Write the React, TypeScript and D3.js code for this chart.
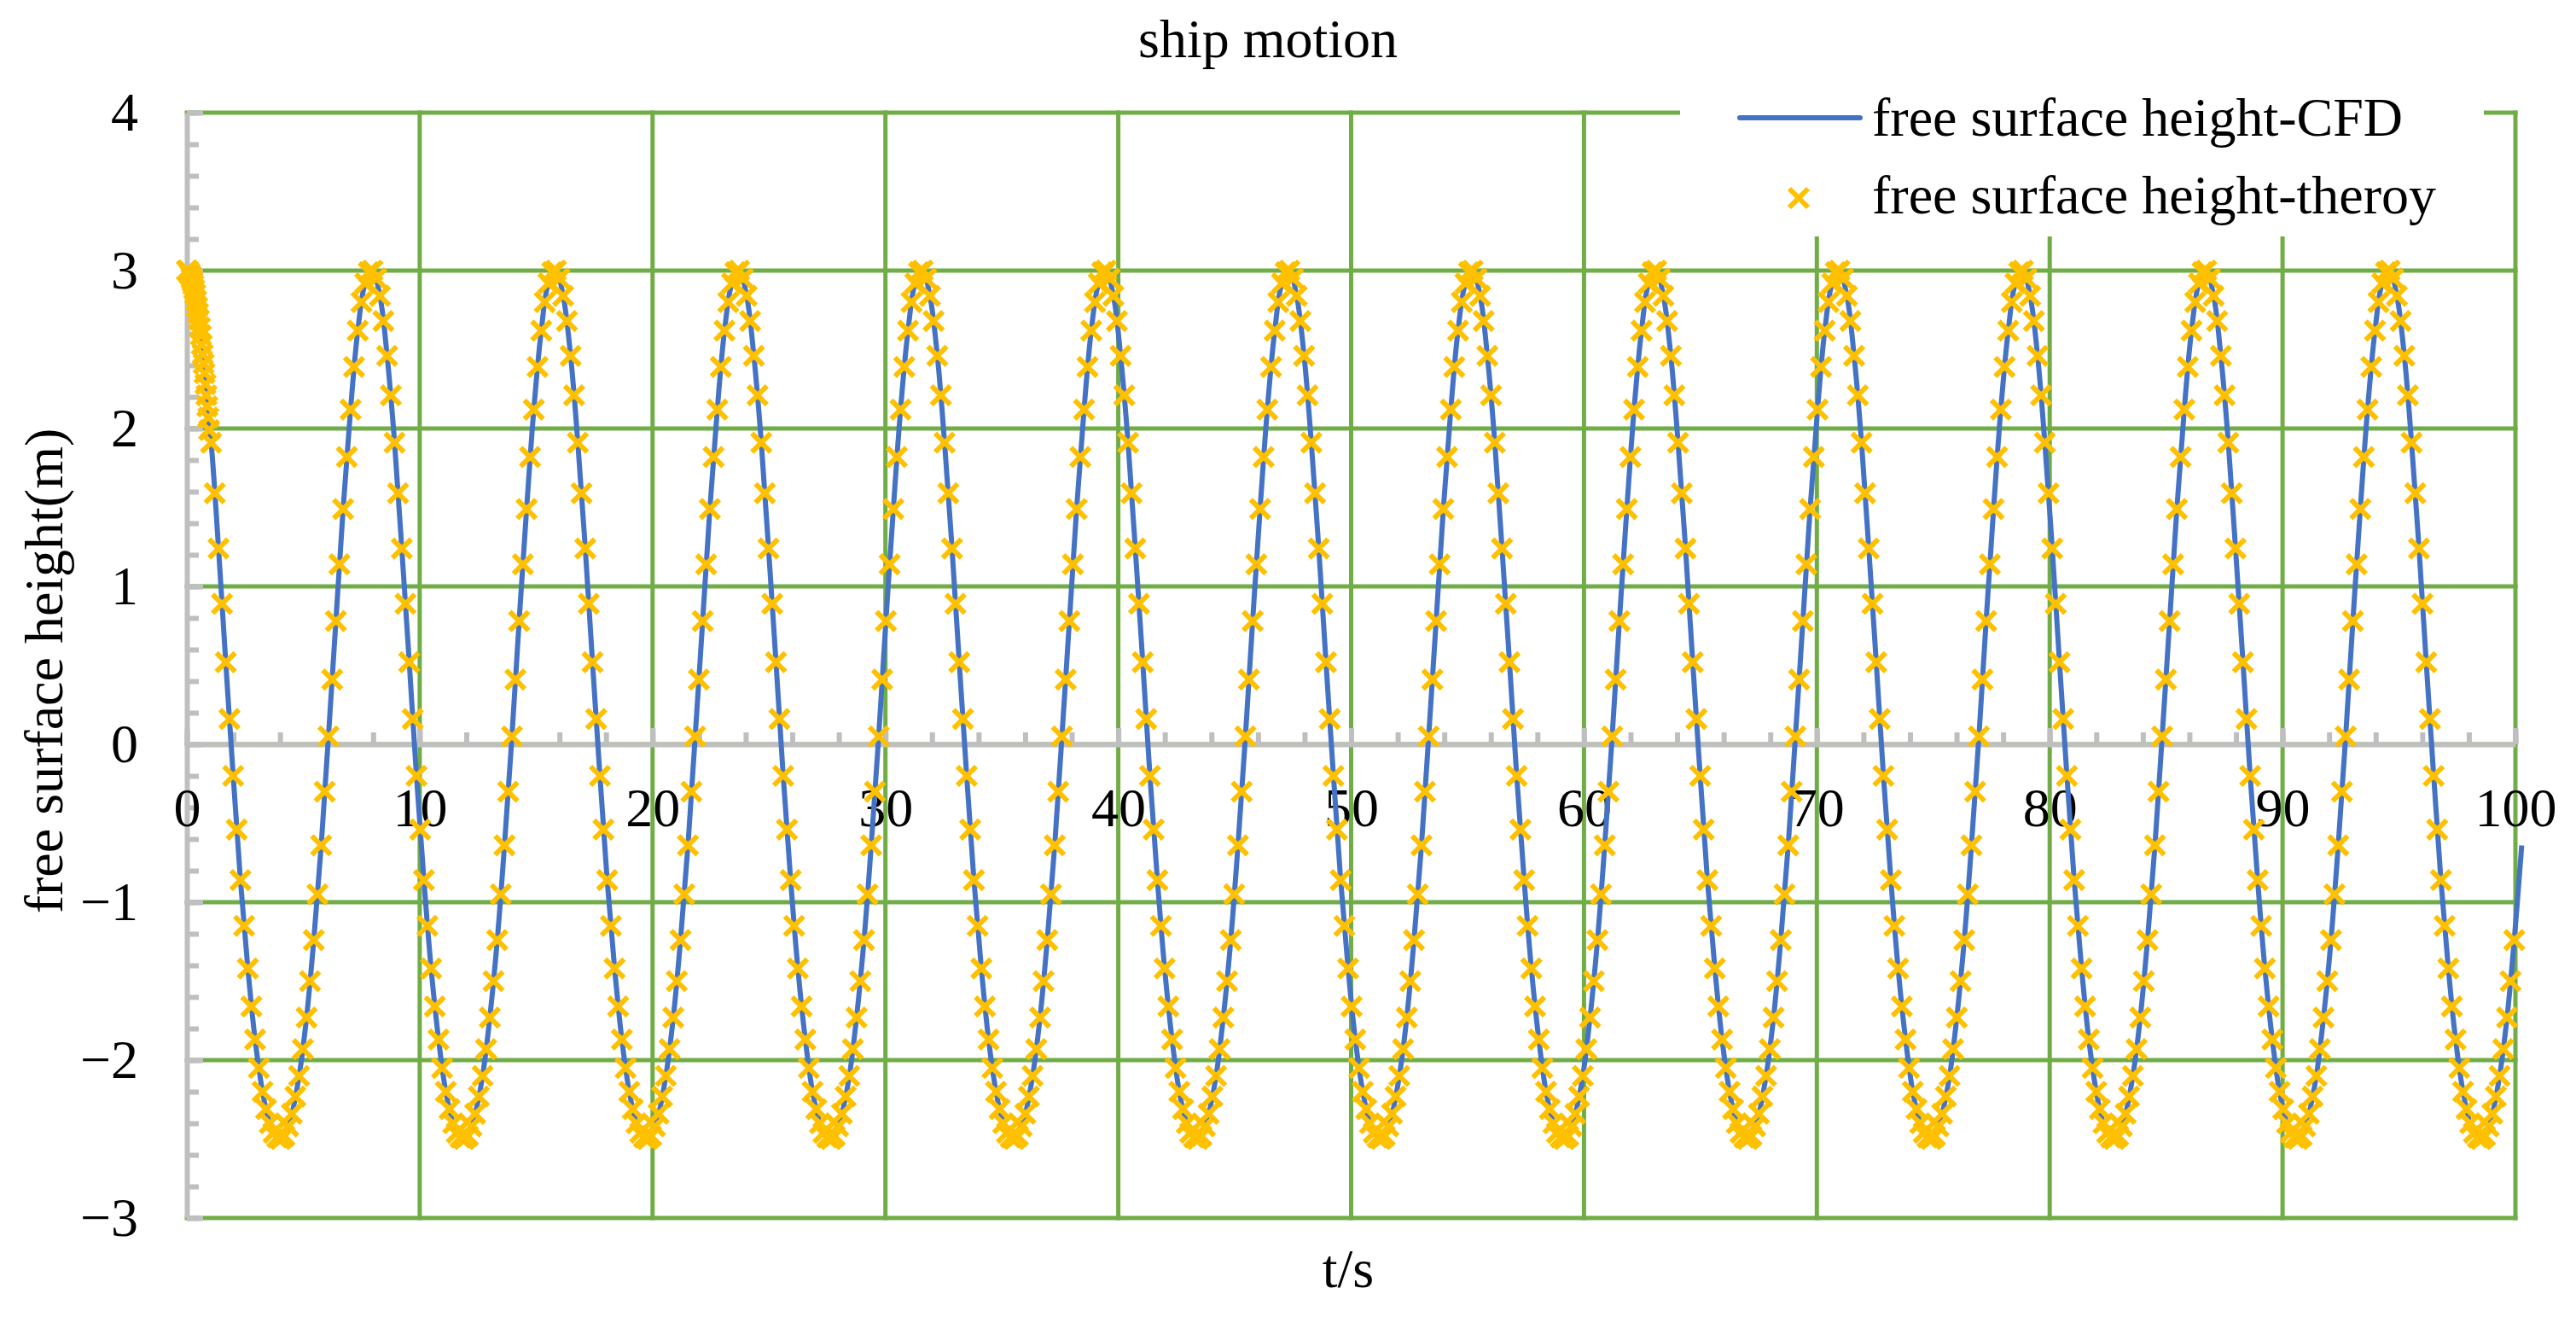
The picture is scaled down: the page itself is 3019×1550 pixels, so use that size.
import React, { useEffect, useRef } from "react";
import * as d3 from "d3";

const W = 3019;
const H = 1550;
const FONT = "'Liberation Serif', 'Times New Roman', Times, serif";

const chartTitle = "ship motion";
const xTitle = "t/s";
const yTitle = "free surface height(m)";
const seriesNames = ["free surface height-CFD", "free surface height-theroy"];

const xTicks = [0, 10, 20, 30, 40, 50, 60, 70, 80, 90, 100];
const yTicks = [-3, -2, -1, 0, 1, 2, 3, 4];

// theory: the dense cluster of samples right at the start (t in s, height in m)
const theoryStartT = [
  0, 0.04, 0.08, 0.12, 0.16, 0.2, 0.24, 0.28, 0.32, 0.36, 0.4, 0.44, 0.48,
  0.52, 0.56, 0.6, 0.64, 0.68, 0.72, 0.76, 0.8, 0.84, 0.88, 0.92, 0.96,
];
const theoryStartH = [
  3, 3, 2.99, 2.98, 2.97, 2.95, 2.93, 2.91, 2.88, 2.85, 2.81, 2.77, 2.73,
  2.69, 2.64, 2.59, 2.53, 2.47, 2.41, 2.35, 2.28, 2.21, 2.14, 2.07, 1.99,
];

// theory: regular samples after the start
const theoryT = [
  1.04, 1.2, 1.36, 1.51, 1.67, 1.83, 1.99, 2.14, 2.3, 2.46, 2.62, 2.77, 2.93, 3.09, 3.25, 3.4, 3.56, 3.72, 3.88, 4.03,
  4.19, 4.35, 4.51, 4.66, 4.82, 4.98, 5.14, 5.29, 5.45, 5.61, 5.77, 5.92, 6.08, 6.24, 6.4, 6.55, 6.71, 6.87, 7.03, 7.18,
  7.34, 7.5, 7.66, 7.81, 7.97, 8.13, 8.29, 8.44, 8.6, 8.76, 8.92, 9.07, 9.23, 9.39, 9.55, 9.7, 9.86, 10.02, 10.18, 10.33,
  10.49, 10.65, 10.81, 10.96, 11.12, 11.28, 11.44, 11.59, 11.75, 11.91, 12.07, 12.22, 12.38, 12.54, 12.7, 12.85, 13.01, 13.17, 13.33, 13.48,
  13.64, 13.8, 13.96, 14.11, 14.27, 14.43, 14.59, 14.74, 14.9, 15.06, 15.22, 15.37, 15.53, 15.69, 15.85, 16, 16.16, 16.32, 16.48, 16.63,
  16.79, 16.95, 17.11, 17.26, 17.42, 17.58, 17.74, 17.89, 18.05, 18.21, 18.37, 18.52, 18.68, 18.84, 19, 19.15, 19.31, 19.47, 19.63, 19.78,
  19.94, 20.1, 20.26, 20.41, 20.57, 20.73, 20.89, 21.04, 21.2, 21.36, 21.52, 21.67, 21.83, 21.99, 22.15, 22.3, 22.46, 22.62, 22.78, 22.93,
  23.09, 23.25, 23.41, 23.56, 23.72, 23.88, 24.04, 24.19, 24.35, 24.51, 24.67, 24.82, 24.98, 25.14, 25.3, 25.45, 25.61, 25.77, 25.93, 26.08,
  26.24, 26.4, 26.56, 26.71, 26.87, 27.03, 27.19, 27.34, 27.5, 27.66, 27.82, 27.97, 28.13, 28.29, 28.45, 28.6, 28.76, 28.92, 29.08, 29.23,
  29.39, 29.55, 29.71, 29.86, 30.02, 30.18, 30.34, 30.49, 30.65, 30.81, 30.97, 31.12, 31.28, 31.44, 31.6, 31.75, 31.91, 32.07, 32.23, 32.38,
  32.54, 32.7, 32.86, 33.01, 33.17, 33.33, 33.49, 33.64, 33.8, 33.96, 34.12, 34.27, 34.43, 34.59, 34.75, 34.9, 35.06, 35.22, 35.38, 35.53,
  35.69, 35.85, 36.01, 36.16, 36.32, 36.48, 36.64, 36.79, 36.95, 37.11, 37.27, 37.42, 37.58, 37.74, 37.9, 38.05, 38.21, 38.37, 38.53, 38.68,
  38.84, 39, 39.16, 39.31, 39.47, 39.63, 39.79, 39.94, 40.1, 40.26, 40.42, 40.57, 40.73, 40.89, 41.05, 41.2, 41.36, 41.52, 41.68, 41.83,
  41.99, 42.15, 42.31, 42.46, 42.62, 42.78, 42.94, 43.09, 43.25, 43.41, 43.57, 43.72, 43.88, 44.04, 44.2, 44.35, 44.51, 44.67, 44.83, 44.98,
  45.14, 45.3, 45.46, 45.61, 45.77, 45.93, 46.09, 46.24, 46.4, 46.56, 46.72, 46.87, 47.03, 47.19, 47.35, 47.5, 47.66, 47.82, 47.98, 48.13,
  48.29, 48.45, 48.61, 48.76, 48.92, 49.08, 49.24, 49.39, 49.55, 49.71, 49.87, 50.02, 50.18, 50.34, 50.5, 50.65, 50.81, 50.97, 51.13, 51.28,
  51.44, 51.6, 51.76, 51.91, 52.07, 52.23, 52.39, 52.54, 52.7, 52.86, 53.02, 53.17, 53.33, 53.49, 53.65, 53.8, 53.96, 54.12, 54.28, 54.43,
  54.59, 54.75, 54.91, 55.06, 55.22, 55.38, 55.54, 55.69, 55.85, 56.01, 56.17, 56.32, 56.48, 56.64, 56.8, 56.95, 57.11, 57.27, 57.43, 57.58,
  57.74, 57.9, 58.06, 58.21, 58.37, 58.53, 58.69, 58.84, 59, 59.16, 59.32, 59.47, 59.63, 59.79, 59.95, 60.1, 60.26, 60.42, 60.58, 60.73,
  60.89, 61.05, 61.21, 61.36, 61.52, 61.68, 61.84, 61.99, 62.15, 62.31, 62.47, 62.62, 62.78, 62.94, 63.1, 63.25, 63.41, 63.57, 63.73, 63.88,
  64.04, 64.2, 64.36, 64.51, 64.67, 64.83, 64.99, 65.14, 65.3, 65.46, 65.62, 65.77, 65.93, 66.09, 66.25, 66.4, 66.56, 66.72, 66.88, 67.03,
  67.19, 67.35, 67.51, 67.66, 67.82, 67.98, 68.14, 68.29, 68.45, 68.61, 68.77, 68.92, 69.08, 69.24, 69.4, 69.55, 69.71, 69.87, 70.03, 70.18,
  70.34, 70.5, 70.66, 70.81, 70.97, 71.13, 71.29, 71.44, 71.6, 71.76, 71.92, 72.07, 72.23, 72.39, 72.55, 72.7, 72.86, 73.02, 73.18, 73.33,
  73.49, 73.65, 73.81, 73.96, 74.12, 74.28, 74.44, 74.59, 74.75, 74.91, 75.07, 75.22, 75.38, 75.54, 75.7, 75.85, 76.01, 76.17, 76.33, 76.48,
  76.64, 76.8, 76.96, 77.11, 77.27, 77.43, 77.59, 77.74, 77.9, 78.06, 78.22, 78.37, 78.53, 78.69, 78.85, 79, 79.16, 79.32, 79.48, 79.63,
  79.79, 79.95, 80.11, 80.26, 80.42, 80.58, 80.74, 80.89, 81.05, 81.21, 81.37, 81.52, 81.68, 81.84, 82, 82.15, 82.31, 82.47, 82.63, 82.78,
  82.94, 83.1, 83.26, 83.41, 83.57, 83.73, 83.89, 84.04, 84.2, 84.36, 84.52, 84.67, 84.83, 84.99, 85.15, 85.3, 85.46, 85.62, 85.78, 85.93,
  86.09, 86.25, 86.41, 86.56, 86.72, 86.88, 87.04, 87.19, 87.35, 87.51, 87.67, 87.82, 87.98, 88.14, 88.3, 88.45, 88.61, 88.77, 88.93, 89.08,
  89.24, 89.4, 89.56, 89.71, 89.87, 90.03, 90.19, 90.34, 90.5, 90.66, 90.82, 90.97, 91.13, 91.29, 91.45, 91.6, 91.76, 91.92, 92.08, 92.23,
  92.39, 92.55, 92.71, 92.86, 93.02, 93.18, 93.34, 93.49, 93.65, 93.81, 93.97, 94.12, 94.28, 94.44, 94.6, 94.75, 94.91, 95.07, 95.23, 95.38,
  95.54, 95.7, 95.86, 96.01, 96.17, 96.33, 96.49, 96.64, 96.8, 96.96, 97.12, 97.27, 97.43, 97.59, 97.75, 97.9, 98.06, 98.22, 98.38, 98.53,
  98.69, 98.85, 99.01, 99.16, 99.32, 99.48, 99.64, 99.79, 99.95,
];
const theoryH = [
  1.91, 1.59, 1.24, 0.89, 0.52, 0.16, -0.2, -0.54, -0.86, -1.15, -1.42, -1.66, -1.87, -2.05, -2.2, -2.31, -2.4, -2.46, -2.49, -2.5, -2.48, -2.42, -2.34, -2.23, -2.1, -1.93, -1.73, -1.5, -1.24, -0.95, -0.64, -0.3, 0.05, 0.41, 0.78, 1.14, 1.49, 1.82, 2.12, 2.39, 2.62, 2.8, 2.92, 2.99, 3, 2.95, 2.84, 2.68, 2.46, 2.21,
  1.91, 1.59, 1.24, 0.89, 0.52, 0.16, -0.2, -0.54, -0.86, -1.15, -1.42, -1.66, -1.87, -2.05, -2.2, -2.31, -2.4, -2.46, -2.49, -2.5, -2.48, -2.42, -2.34, -2.23, -2.1, -1.93, -1.73, -1.5, -1.24, -0.95, -0.64, -0.3, 0.05, 0.41, 0.78, 1.14, 1.49, 1.82, 2.12, 2.39, 2.62, 2.8, 2.92, 2.99, 3, 2.95, 2.84, 2.68, 2.46, 2.21,
  1.91, 1.59, 1.24, 0.89, 0.52, 0.16, -0.2, -0.54, -0.86, -1.15, -1.42, -1.66, -1.87, -2.05, -2.2, -2.31, -2.4, -2.46, -2.49, -2.5, -2.48, -2.42, -2.34, -2.23, -2.1, -1.93, -1.73, -1.5, -1.24, -0.95, -0.64, -0.3, 0.05, 0.41, 0.78, 1.14, 1.49, 1.82, 2.12, 2.39, 2.62, 2.8, 2.92, 2.99, 3, 2.95, 2.84, 2.68, 2.46, 2.21,
  1.91, 1.59, 1.24, 0.89, 0.52, 0.16, -0.2, -0.54, -0.86, -1.15, -1.42, -1.66, -1.87, -2.05, -2.2, -2.31, -2.4, -2.46, -2.49, -2.5, -2.48, -2.42, -2.34, -2.23, -2.1, -1.93, -1.73, -1.5, -1.24, -0.95, -0.64, -0.3, 0.05, 0.41, 0.78, 1.14, 1.49, 1.82, 2.12, 2.39, 2.62, 2.8, 2.92, 2.99, 3, 2.95, 2.84, 2.68, 2.46, 2.21,
  1.91, 1.59, 1.24, 0.89, 0.52, 0.16, -0.2, -0.54, -0.86, -1.15, -1.42, -1.66, -1.87, -2.05, -2.2, -2.31, -2.4, -2.46, -2.49, -2.5, -2.48, -2.42, -2.34, -2.23, -2.1, -1.93, -1.73, -1.5, -1.24, -0.95, -0.64, -0.3, 0.05, 0.41, 0.78, 1.14, 1.49, 1.82, 2.12, 2.39, 2.62, 2.8, 2.92, 2.99, 3, 2.95, 2.84, 2.68, 2.46, 2.21,
  1.91, 1.59, 1.24, 0.89, 0.52, 0.16, -0.2, -0.54, -0.86, -1.15, -1.42, -1.66, -1.87, -2.05, -2.2, -2.31, -2.4, -2.46, -2.49, -2.5, -2.48, -2.42, -2.34, -2.23, -2.1, -1.93, -1.73, -1.5, -1.24, -0.95, -0.64, -0.3, 0.05, 0.41, 0.78, 1.14, 1.49, 1.82, 2.12, 2.39, 2.62, 2.8, 2.92, 2.99, 3, 2.95, 2.84, 2.68, 2.46, 2.21,
  1.91, 1.59, 1.24, 0.89, 0.52, 0.16, -0.2, -0.54, -0.86, -1.15, -1.42, -1.66, -1.87, -2.05, -2.2, -2.31, -2.4, -2.46, -2.49, -2.5, -2.48, -2.42, -2.34, -2.23, -2.1, -1.93, -1.73, -1.5, -1.24, -0.95, -0.64, -0.3, 0.05, 0.41, 0.78, 1.14, 1.49, 1.82, 2.12, 2.39, 2.62, 2.8, 2.92, 2.99, 3, 2.95, 2.84, 2.68, 2.46, 2.21,
  1.91, 1.59, 1.24, 0.89, 0.52, 0.16, -0.2, -0.54, -0.86, -1.15, -1.42, -1.66, -1.87, -2.05, -2.2, -2.31, -2.4, -2.46, -2.49, -2.5, -2.48, -2.42, -2.34, -2.23, -2.1, -1.93, -1.73, -1.5, -1.24, -0.95, -0.64, -0.3, 0.05, 0.41, 0.78, 1.14, 1.49, 1.82, 2.12, 2.39, 2.62, 2.8, 2.92, 2.99, 3, 2.95, 2.84, 2.68, 2.46, 2.21,
  1.91, 1.59, 1.24, 0.89, 0.52, 0.16, -0.2, -0.54, -0.86, -1.15, -1.42, -1.66, -1.87, -2.05, -2.2, -2.31, -2.4, -2.46, -2.49, -2.5, -2.48, -2.42, -2.34, -2.23, -2.1, -1.93, -1.73, -1.5, -1.24, -0.95, -0.64, -0.3, 0.05, 0.41, 0.78, 1.14, 1.49, 1.82, 2.12, 2.39, 2.62, 2.8, 2.92, 2.99, 3, 2.95, 2.84, 2.68, 2.46, 2.21,
  1.91, 1.59, 1.24, 0.89, 0.52, 0.16, -0.2, -0.54, -0.86, -1.15, -1.42, -1.66, -1.87, -2.05, -2.2, -2.31, -2.4, -2.46, -2.49, -2.5, -2.48, -2.42, -2.34, -2.23, -2.1, -1.93, -1.73, -1.5, -1.24, -0.95, -0.64, -0.3, 0.05, 0.41, 0.78, 1.14, 1.49, 1.82, 2.12, 2.39, 2.62, 2.8, 2.92, 2.99, 3, 2.95, 2.84, 2.68, 2.46, 2.21,
  1.91, 1.59, 1.24, 0.89, 0.52, 0.16, -0.2, -0.54, -0.86, -1.15, -1.42, -1.66, -1.87, -2.05, -2.2, -2.31, -2.4, -2.46, -2.49, -2.5, -2.48, -2.42, -2.34, -2.23, -2.1, -1.93, -1.73, -1.5, -1.24, -0.95, -0.64, -0.3, 0.05, 0.41, 0.78, 1.14, 1.49, 1.82, 2.12, 2.39, 2.62, 2.8, 2.92, 2.99, 3, 2.95, 2.84, 2.68, 2.46, 2.21,
  1.91, 1.59, 1.24, 0.89, 0.52, 0.16, -0.2, -0.54, -0.86, -1.15, -1.42, -1.66, -1.87, -2.05, -2.2, -2.31, -2.4, -2.46, -2.49, -2.5, -2.48, -2.42, -2.34, -2.23, -2.1, -1.93, -1.73, -1.5, -1.24, -0.95, -0.64, -0.3, 0.05, 0.41, 0.78, 1.14, 1.49, 1.82, 2.12, 2.39, 2.62, 2.8, 2.92, 2.99, 3, 2.95, 2.84, 2.68, 2.46, 2.21,
  1.91, 1.59, 1.24, 0.89, 0.52, 0.16, -0.2, -0.54, -0.86, -1.15, -1.42, -1.66, -1.87, -2.05, -2.2, -2.31, -2.4, -2.46, -2.49, -2.5, -2.48, -2.42, -2.34, -2.23, -2.1, -1.93, -1.73, -1.5, -1.24,
];

// CFD time history
const cfdT = [
  0, 0.16, 0.32, 0.48, 0.64, 0.8, 0.96,
  1.04, 1.36, 1.67, 1.99, 2.3, 2.62, 2.93, 3.25, 3.56, 3.88,
  4.19, 4.51, 4.82, 5.14, 5.45, 5.77, 6.08, 6.4, 6.71, 7.03,
  7.34, 7.66, 7.97, 8.29, 8.6, 8.92, 9.23, 9.55, 9.86, 10.18,
  10.49, 10.81, 11.12, 11.44, 11.75, 12.07, 12.38, 12.7, 13.01, 13.33,
  13.64, 13.96, 14.27, 14.59, 14.9, 15.22, 15.53, 15.85, 16.16, 16.48,
  16.79, 17.11, 17.42, 17.74, 18.05, 18.37, 18.68, 19, 19.31, 19.63,
  19.94, 20.26, 20.57, 20.89, 21.2, 21.52, 21.83, 22.15, 22.46, 22.78,
  23.09, 23.41, 23.72, 24.04, 24.35, 24.67, 24.98, 25.3, 25.61, 25.93,
  26.24, 26.56, 26.87, 27.19, 27.5, 27.82, 28.13, 28.45, 28.76, 29.08,
  29.39, 29.71, 30.02, 30.34, 30.65, 30.97, 31.28, 31.6, 31.91, 32.23,
  32.54, 32.86, 33.17, 33.49, 33.8, 34.12, 34.43, 34.75, 35.06, 35.38,
  35.69, 36.01, 36.32, 36.64, 36.95, 37.27, 37.58, 37.9, 38.21, 38.53,
  38.84, 39.16, 39.47, 39.79, 40.1, 40.42, 40.73, 41.05, 41.36, 41.68,
  41.99, 42.31, 42.62, 42.94, 43.25, 43.57, 43.88, 44.2, 44.51, 44.83,
  45.14, 45.46, 45.77, 46.09, 46.4, 46.72, 47.03, 47.35, 47.66, 47.98,
  48.29, 48.61, 48.92, 49.24, 49.55, 49.87, 50.18, 50.5, 50.81, 51.13,
  51.44, 51.76, 52.07, 52.39, 52.7, 53.02, 53.33, 53.65, 53.96, 54.28,
  54.59, 54.91, 55.22, 55.54, 55.85, 56.17, 56.48, 56.8, 57.11, 57.43,
  57.74, 58.06, 58.37, 58.69, 59, 59.32, 59.63, 59.95, 60.26, 60.58,
  60.89, 61.21, 61.52, 61.84, 62.15, 62.47, 62.78, 63.1, 63.41, 63.73,
  64.04, 64.36, 64.67, 64.99, 65.3, 65.62, 65.93, 66.25, 66.56, 66.88,
  67.19, 67.51, 67.82, 68.14, 68.45, 68.77, 69.08, 69.4, 69.71, 70.03,
  70.34, 70.66, 70.97, 71.29, 71.6, 71.92, 72.23, 72.55, 72.86, 73.18,
  73.49, 73.81, 74.12, 74.44, 74.75, 75.07, 75.38, 75.7, 76.01, 76.33,
  76.64, 76.96, 77.27, 77.59, 77.9, 78.22, 78.53, 78.85, 79.16, 79.48,
  79.79, 80.11, 80.42, 80.74, 81.05, 81.37, 81.68, 82, 82.31, 82.63,
  82.94, 83.26, 83.57, 83.89, 84.2, 84.52, 84.83, 85.15, 85.46, 85.78,
  86.09, 86.41, 86.72, 87.04, 87.35, 87.67, 87.98, 88.3, 88.61, 88.93,
  89.24, 89.56, 89.87, 90.19, 90.5, 90.82, 91.13, 91.45, 91.76, 92.08,
  92.39, 92.71, 93.02, 93.34, 93.65, 93.97, 94.28, 94.6, 94.91, 95.23,
  95.54, 95.86, 96.17, 96.49, 96.8, 97.12, 97.43, 97.75, 98.06, 98.38,
  98.69, 99.01, 99.32, 99.64, 99.95, 100.27,
];
const cfdH = [
  3, 2.97, 2.88, 2.73, 2.53, 2.28, 1.99,
  1.91, 1.24, 0.52, -0.2, -0.86, -1.42, -1.87, -2.2, -2.4, -2.49, -2.48, -2.34, -2.1, -1.73, -1.24, -0.64, 0.05, 0.78, 1.49, 2.12, 2.62, 2.92, 3, 2.84, 2.46,
  1.91, 1.24, 0.52, -0.2, -0.86, -1.42, -1.87, -2.2, -2.4, -2.49, -2.48, -2.34, -2.1, -1.73, -1.24, -0.64, 0.05, 0.78, 1.49, 2.12, 2.62, 2.92, 3, 2.84, 2.46,
  1.91, 1.24, 0.52, -0.2, -0.86, -1.42, -1.87, -2.2, -2.4, -2.49, -2.48, -2.34, -2.1, -1.73, -1.24, -0.64, 0.05, 0.78, 1.49, 2.12, 2.62, 2.92, 3, 2.84, 2.46,
  1.91, 1.24, 0.52, -0.2, -0.86, -1.42, -1.87, -2.2, -2.4, -2.49, -2.48, -2.34, -2.1, -1.73, -1.24, -0.64, 0.05, 0.78, 1.49, 2.12, 2.62, 2.92, 3, 2.84, 2.46,
  1.91, 1.24, 0.52, -0.2, -0.86, -1.42, -1.87, -2.2, -2.4, -2.49, -2.48, -2.34, -2.1, -1.73, -1.24, -0.64, 0.05, 0.78, 1.49, 2.12, 2.62, 2.92, 3, 2.84, 2.46,
  1.91, 1.24, 0.52, -0.2, -0.86, -1.42, -1.87, -2.2, -2.4, -2.49, -2.48, -2.34, -2.1, -1.73, -1.24, -0.64, 0.05, 0.78, 1.49, 2.12, 2.62, 2.92, 3, 2.84, 2.46,
  1.91, 1.24, 0.52, -0.2, -0.86, -1.42, -1.87, -2.2, -2.4, -2.49, -2.48, -2.34, -2.1, -1.73, -1.24, -0.64, 0.05, 0.78, 1.49, 2.12, 2.62, 2.92, 3, 2.84, 2.46,
  1.91, 1.24, 0.52, -0.2, -0.86, -1.42, -1.87, -2.2, -2.4, -2.49, -2.48, -2.34, -2.1, -1.73, -1.24, -0.64, 0.05, 0.78, 1.49, 2.12, 2.62, 2.92, 3, 2.84, 2.46,
  1.91, 1.24, 0.52, -0.2, -0.86, -1.42, -1.87, -2.2, -2.4, -2.49, -2.48, -2.34, -2.1, -1.73, -1.24, -0.64, 0.05, 0.78, 1.49, 2.12, 2.62, 2.92, 3, 2.84, 2.46,
  1.91, 1.24, 0.52, -0.2, -0.86, -1.42, -1.87, -2.2, -2.4, -2.49, -2.48, -2.34, -2.1, -1.73, -1.24, -0.64, 0.05, 0.78, 1.49, 2.12, 2.62, 2.92, 3, 2.84, 2.46,
  1.91, 1.24, 0.52, -0.2, -0.86, -1.42, -1.87, -2.2, -2.4, -2.49, -2.48, -2.34, -2.1, -1.73, -1.24, -0.64, 0.05, 0.78, 1.49, 2.12, 2.62, 2.92, 3, 2.84, 2.46,
  1.91, 1.24, 0.52, -0.2, -0.86, -1.42, -1.87, -2.2, -2.4, -2.49, -2.48, -2.34, -2.1, -1.73, -1.24, -0.64, 0.05, 0.78, 1.49, 2.12, 2.62, 2.92, 3, 2.84, 2.46,
  1.91, 1.24, 0.52, -0.2, -0.86, -1.42, -1.87, -2.2, -2.4, -2.49, -2.48, -2.34, -2.1, -1.73, -1.24, -0.64,
];

const GREEN = "#70AD47";
const GRAY = "#BFBFBF";
const BLUE = "#4472C4";
const GOLD = "#FFC000";

function ShipMotionChart() {
  const svgRef = useRef<SVGSVGElement>(null);

  useEffect(() => {
    drawChart(svgRef);
  }, []);

  const drawChart = (ref) => {
    const svg = d3.select(ref.current);
    svg.selectAll("*").remove(); // Clear previous content

    const plot = { left: 219, right: 2948, top: 132, bottom: 1427 };

    const xScale = d3.scaleLinear().domain([0, 100]).range([plot.left, plot.right]);
    const yScale = d3.scaleLinear().domain([-3, 4]).range([plot.bottom, plot.top]);

    svg.append("rect").attr("width", W).attr("height", H).attr("fill", "#ffffff");

    // Gridlines
    const grid = svg
      .append("g")
      .attr("stroke", GREEN)
      .attr("stroke-width", 5)
      .attr("stroke-linecap", "square");
    grid
      .selectAll("line.h")
      .data(yTicks)
      .join("line")
      .attr("class", "h")
      .attr("x1", plot.left)
      .attr("x2", plot.right)
      .attr("y1", (d) => yScale(d))
      .attr("y2", (d) => yScale(d));
    grid
      .selectAll("line.v")
      .data(xTicks.filter((d) => d > 0))
      .join("line")
      .attr("class", "v")
      .attr("x1", (d) => xScale(d))
      .attr("x2", (d) => xScale(d))
      .attr("y1", plot.top)
      .attr("y2", plot.bottom);

    // Legend background hides the grid behind it
    svg
      .append("rect")
      .attr("x", 1969)
      .attr("y", 92)
      .attr("width", 942)
      .attr("height", 185)
      .attr("fill", "#ffffff");

    const styleAxis = (g) => {
      g.attr("color", GRAY).attr("font-family", FONT).attr("font-size", 64);
      g.select(".domain").attr("stroke-width", 6);
      g.selectAll(".tick line").attr("stroke-width", 6);
      g.selectAll(".tick text").attr("fill", "#000000");
    };

    const intFormat = d3.format("d");

    // Y-axis (minor then major)
    svg
      .append("g")
      .attr("transform", `translate(${plot.left},0)`)
      .call(
        d3.axisLeft(yScale).tickValues(yScale.ticks(35)).tickSize(-14).tickSizeOuter(0).tickFormat(() => "")
      )
      .call(styleAxis)
      .call((g) => g.select(".domain").remove());
    svg
      .append("g")
      .attr("transform", `translate(${plot.left},0)`)
      .call(
        d3.axisLeft(yScale).tickValues(yTicks).tickSize(-19).tickSizeOuter(0).tickPadding(57).tickFormat(intFormat)
      )
      .call(styleAxis);

    // X-axis sits at y = 0
    svg
      .append("g")
      .attr("transform", `translate(0,${yScale(0)})`)
      .call(
        d3.axisBottom(xScale).tickValues(xScale.ticks(50)).tickSize(-14).tickSizeOuter(0).tickFormat(() => "")
      )
      .call(styleAxis)
      .call((g) => g.select(".domain").remove());
    svg
      .append("g")
      .attr("transform", `translate(0,${yScale(0)})`)
      .call(
        d3.axisBottom(xScale).tickValues(xTicks).tickSize(-19).tickSizeOuter(0).tickPadding(51).tickFormat(intFormat)
      )
      .call(styleAxis);

    // CFD line
    const line = d3
      .line()
      .x((d) => xScale(d[0]))
      .y((d) => yScale(d[1]))
      .curve(d3.curveCatmullRom.alpha(0.5));

    svg
      .append("path")
      .datum(d3.zip(cfdT, cfdH))
      .attr("fill", "none")
      .attr("stroke", BLUE)
      .attr("stroke-width", 6)
      .attr("stroke-linejoin", "round")
      .attr("d", line);

    // Theory markers
    const cross = "M-11,-11L11,11M-11,11L11,-11";
    const theoryPoints = d3.zip(
      [...theoryStartT, ...theoryT],
      [...theoryStartH, ...theoryH]
    );
    svg
      .append("g")
      .selectAll("path")
      .data(theoryPoints)
      .join("path")
      .attr("transform", (d) => `translate(${xScale(d[0])},${yScale(d[1])})`)
      .attr("d", cross)
      .attr("fill", "none")
      .attr("stroke", GOLD)
      .attr("stroke-width", 6);

    // Legend
    svg
      .append("line")
      .attr("x1", 2039)
      .attr("x2", 2180)
      .attr("y1", 138)
      .attr("y2", 138)
      .attr("stroke", BLUE)
      .attr("stroke-width", 6)
      .attr("stroke-linecap", "round");
    svg
      .append("text")
      .attr("x", 2194)
      .attr("y", 159)
      .attr("font-family", FONT)
      .attr("font-size", 64)
      .text(seriesNames[0]);
    svg
      .append("path")
      .attr("transform", "translate(2108,232)")
      .attr("d", cross)
      .attr("fill", "none")
      .attr("stroke", GOLD)
      .attr("stroke-width", 6);
    svg
      .append("text")
      .attr("x", 2194)
      .attr("y", 250)
      .attr("font-family", FONT)
      .attr("font-size", 64)
      .text(seriesNames[1]);

    // Titles
    svg
      .append("text")
      .attr("x", 1486)
      .attr("y", 67)
      .attr("text-anchor", "middle")
      .attr("font-family", FONT)
      .attr("font-size", 64)
      .text(chartTitle);
    svg
      .append("text")
      .attr("x", 1580)
      .attr("y", 1508)
      .attr("text-anchor", "middle")
      .attr("font-family", FONT)
      .attr("font-size", 64)
      .text(xTitle);
    svg
      .append("text")
      .attr("transform", "translate(73,786) rotate(-90)")
      .attr("text-anchor", "middle")
      .attr("font-family", FONT)
      .attr("font-size", 64)
      .text(yTitle);
  };

  return (
    <svg
      ref={svgRef}
      width={W}
      height={H}
      style={{ position: "absolute", left: 0, top: 0, display: "block" }}
    ></svg>
  );
}

export default ShipMotionChart;
